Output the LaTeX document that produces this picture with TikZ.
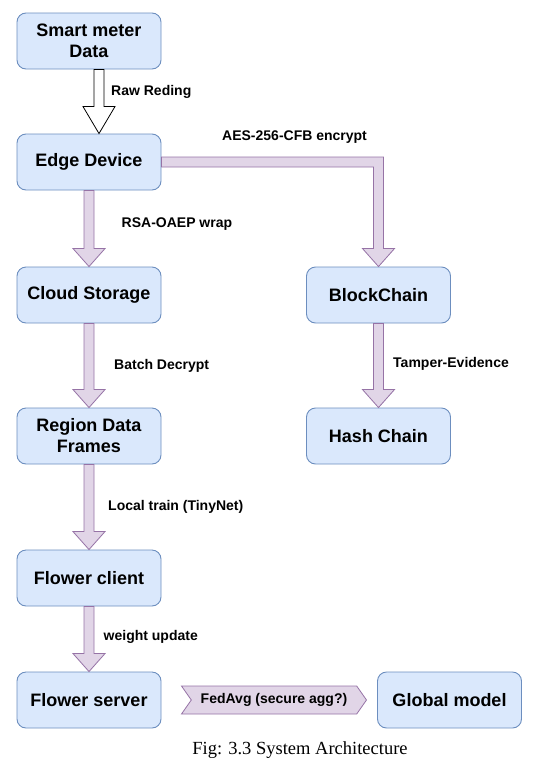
\documentclass[tikz,border=0pt]{standalone}
\usepackage{fontspec}
\setmainfont{Liberation Serif}
\setsansfont{Liberation Sans}
\usetikzlibrary{calc,positioning,shapes.symbols}
\definecolor{boxfill}{HTML}{DAE8FC}
\definecolor{boxline}{HTML}{6C8EBF}
\definecolor{arrfill}{HTML}{E1D5E7}
\definecolor{arrline}{HTML}{9673A6}
\tikzset{
  block/.style={draw=boxline,fill=boxfill,line width=0.9pt,rounded corners=9pt,minimum width=144pt,minimum height=56pt,inner sep=0pt,align=center,font=\sffamily\bfseries\fontsize{18}{21}\selectfont},
  lbl/.style={anchor=west,inner sep=0pt,font=\sffamily\bfseries\fontsize{14}{16}\selectfont},
  flowline/.style={draw=arrline,fill=arrfill,line width=0.8pt,line join=miter}
}
% block arrow from south of #2 to north of #3
\newcommand\flowarrow[3][]{%
  \draw[flowline,#1] let \p1=(#2.south), \p2=(#3.north) in
    (\x1-5pt,\y1) -- (\x1-5pt,\y2+18pt) -- (\x1-16pt,\y2+18pt) -- (\x1,\y2)
    -- (\x1+16pt,\y2+18pt) -- (\x1+5pt,\y2+18pt) -- (\x1+5pt,\y1) -- cycle;}

\begin{document}
\begin{tikzpicture}[x=1pt,y=-1pt]
            \useasboundingbox (0,0) rectangle (542,766);
            % left column
            \node[block] (meter) at (89,41) {Smart meter\\Data};
            \node[block] (edge) at (89,162) {Edge Device};
            \node[block] (cloud) at (89,295) {Cloud Storage};
            \node[block] (region) at (89,436) {Region Data\\Frames};
            \node[block] (client) at (89,578) {Flower client};
            \node[block] (server) at (89,700) {Flower server};
            % right column
            \node[block] (chain) at (378.5,295) {BlockChain};
            \node[block] (hash) at (378.5,436) {Hash Chain};
            \node[block] (global) at (449.5,700) {Global model};
            % raw reading arrow (white)
            \draw[draw=black,fill=white,line width=0.8pt] let \p1=([xshift=10pt]meter.south), \p2=([xshift=10pt]edge.north) in
                (\x1-5pt,\y1) -- (\x1-5pt,\y2+27pt) -- (\x1-16pt,\y2+27pt) -- (\x2,\y2)
                -- (\x1+16pt,\y2+27pt) -- (\x1+5pt,\y2+27pt) -- (\x1+5pt,\y1) -- cycle;
            \flowarrow{edge}{cloud}
            \flowarrow{cloud}{region}
            \flowarrow{region}{client}
            \flowarrow{client}{server}
            \flowarrow{chain}{hash}
            % elbow to blockchain
            \draw[flowline] let \p1=(edge.east), \p2=(chain.north) in
                (\x1,\y1+5pt) -- (\x2+5pt,\y1+5pt) -- (\x2+5pt,\y2+18pt) -- (\x2+16pt,\y2+18pt) -- (\x2,\y2)
                -- (\x2-16pt,\y2+18pt) -- (\x2-5pt,\y2+18pt) -- (\x2-5pt,\y1-5pt) -- (\x1,\y1-5pt) -- cycle;
            % labels
            \node[lbl] (rawlbl) at (111,92) {Raw Reding};
            \node[lbl] (aeslbl) at (222,137) {AES-256-CFB encrypt};
            \node[lbl] (rsalbl) at (121.5,224) {RSA-OAEP wrap};
            \node[lbl] (batchlbl) at (114,366) {Batch Decrypt};
            \node[lbl] (tamperlbl) at (393,364) {Tamper-Evidence};
            \node[lbl] (locallbl) at (108,507) {Local train (TinyNet)};
            \node[lbl] (weightlbl) at (103.5,637) {weight update};
            \node[flowline,signal,signal from=west,signal to=east,signal pointer angle=110,minimum width=185pt,minimum height=28pt,inner sep=0pt,font=\sffamily\bfseries\fontsize{14}{16}\selectfont] (fedavg) at (274,700) {FedAvg (secure agg?)};
            \node[anchor=base,font=\fontsize{18.5}{20}\selectfont] (caption) at (300,754) {Fig: 3.3 System Architecture};
        \end{tikzpicture}
\end{document}
